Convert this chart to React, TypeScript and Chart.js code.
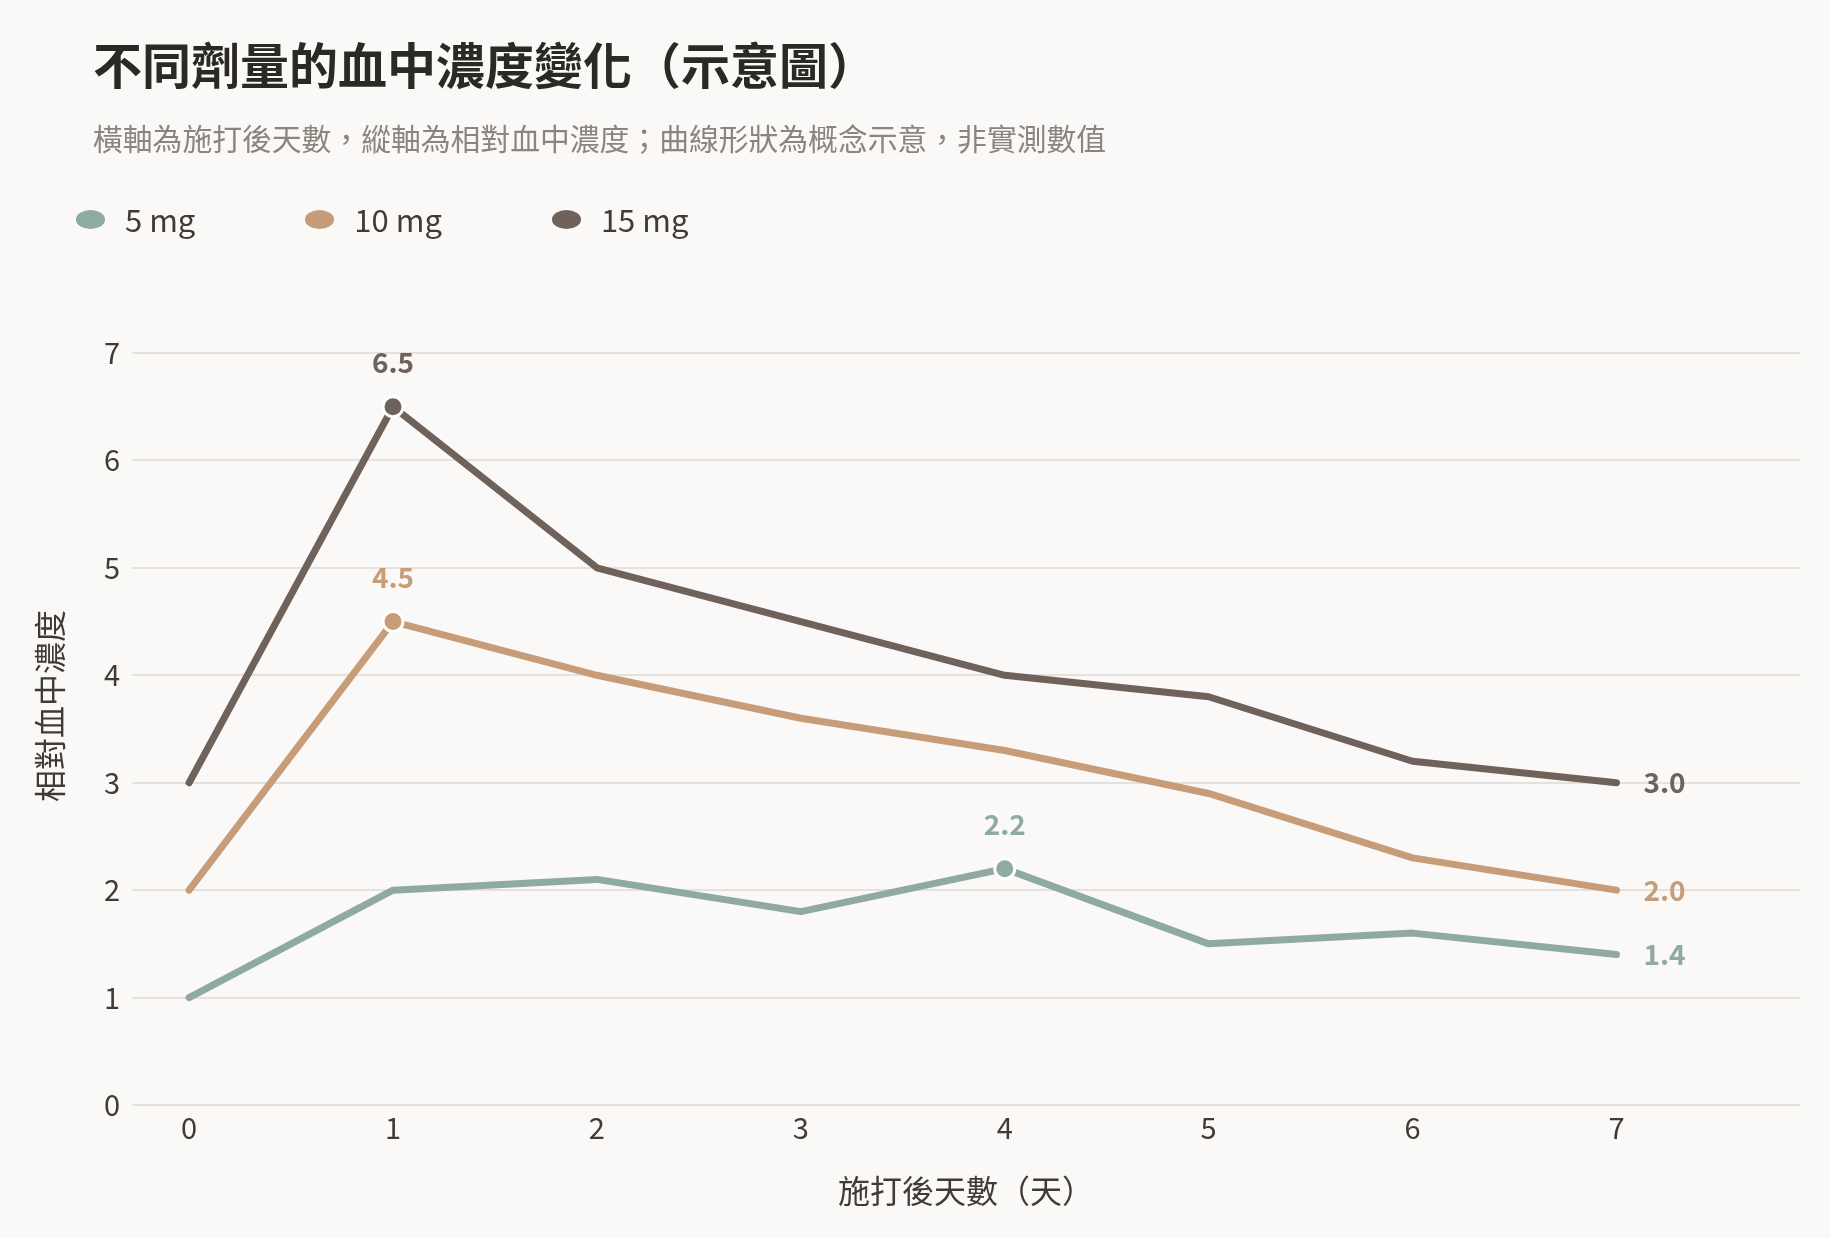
import React, { useEffect, useRef } from 'react'
import Chart, { ChartConfiguration, Plugin } from 'chart.js/auto'

const days = [0, 1, 2, 3, 4, 5, 6, 7]
const seriesNames = ['5 mg', '10 mg', '15 mg']
const seriesColors = ['#8fa9a3', '#c79c78', '#6e625a']
const dose5 = [1.0, 2.0, 2.1, 1.8, 2.2, 1.5, 1.6, 1.4]
const dose10 = [2.0, 4.5, 4.0, 3.6, 3.3, 2.9, 2.3, 2.0]
const dose15 = [3.0, 6.5, 5.0, 4.5, 4.0, 3.8, 3.2, 3.0]
const seriesValues = [dose5, dose10, dose15]

const FONT = '"Noto Sans CJK TC", "Noto Sans", sans-serif'
const BG = '#faf9f7'
const TEXT = '#3f3b37'
const Y_TITLE = '相對血中濃度'

const peakIndex = (values: number[]) => values.indexOf(Math.max(...values))

// peak value above the marker, last value right of the line end, y title
const valueLabels: Plugin<'line'> = {
  id: 'valueLabels',
  afterDatasetsDraw(chart) {
    const { ctx, chartArea } = chart
    seriesValues.forEach((values, i) => {
      const meta = chart.getDatasetMeta(i)
      const peak = peakIndex(values)
      const last = values.length - 1
      ctx.save()
      ctx.fillStyle = seriesColors[i]
      ctx.font = `bold 28px ${FONT}`
      ctx.textBaseline = 'middle'
      const p = meta.data[peak]
      ctx.textAlign = 'center'
      ctx.fillText(values[peak].toFixed(1), p.x, p.y - 44)
      const e = meta.data[last]
      ctx.textAlign = 'left'
      ctx.fillText(values[last].toFixed(1), e.x + 27, e.y)
      ctx.restore()
    })

    // axis title sits a bit above the plot centre in the original
    ctx.save()
    ctx.fillStyle = TEXT
    ctx.font = `32px ${FONT}`
    ctx.textAlign = 'center'
    ctx.textBaseline = 'middle'
    ctx.translate(50, (chartArea.top + chartArea.bottom) / 2 - 23)
    ctx.rotate(-Math.PI / 2)
    ctx.fillText(Y_TITLE, 0, 0)
    ctx.restore()
  },
}

const DoseChart: React.FC = () => {
  const chartRef = useRef<HTMLCanvasElement | null>(null)
  const chartInstance = useRef<Chart | null>(null)

  useEffect(() => {
    if (!chartRef.current) return
    if (chartInstance.current) chartInstance.current.destroy()
    const ctx = chartRef.current.getContext('2d')
    if (!ctx) return

    Chart.defaults.font.family = FONT

    const config: ChartConfiguration<'line'> = {
      type: 'line',
      data: {
        datasets: seriesValues.map((values, i) => {
          const peak = peakIndex(values)
          return {
            label: seriesNames[i],
            data: values.map((v, j) => ({ x: days[j], y: v })),
            borderColor: seriesColors[i],
            backgroundColor: seriesColors[i],
            borderWidth: 7,
            borderCapStyle: 'round',
            borderJoinStyle: 'round',
            tension: 0,
            pointRadius: values.map((_, j) => (j === peak ? 10 : 0)),
            pointBackgroundColor: seriesColors[i],
            pointBorderColor: '#ffffff',
            pointBorderWidth: 3,
          }
        }),
      },
      options: {
        responsive: true,
        maintainAspectRatio: false,
        animation: false,
        layout: {
          padding: { left: 20, right: 30, top: 353, bottom: 20 },
        },
        plugins: {
          legend: { display: false },
          tooltip: { enabled: false },
        },
        scales: {
          x: {
            type: 'linear',
            min: -0.28,
            max: 7.9,
            afterBuildTicks: (axis) => {
              axis.ticks = days.map((d) => ({ value: d }))
            },
            afterFit: (axis) => {
              axis.height = 113
            },
            grid: { display: false },
            border: { display: false },
            ticks: {
              color: TEXT,
              font: { size: 29 },
              padding: -2,
            },
            title: {
              display: true,
              text: '施打後天數（天）',
              color: TEXT,
              font: { size: 32 },
              padding: { top: 0, bottom: 8 },
            },
          },
          y: {
            min: 0,
            max: 7,
            afterFit: (axis) => {
              axis.width = 112
            },
            grid: {
              color: '#e5e2dd',
              lineWidth: 2,
              drawTicks: false,
            },
            border: { display: false },
            ticks: {
              stepSize: 1,
              color: TEXT,
              font: { size: 29 },
              padding: 12,
            },
          },
        },
      },
      plugins: [valueLabels],
    }

    chartInstance.current = new Chart(ctx, config)

    return () => {
      if (chartInstance.current) chartInstance.current.destroy()
    }
  }, [])

  return (
    <div style={{ position: 'absolute', inset: 0 }}>
      <canvas ref={chartRef} />
    </div>
  )
}

const App: React.FC = () => {
  return (
    <div
      style={{
        position: 'fixed',
        left: 0,
        top: 0,
        width: 1830,
        height: 1238,
        background: BG,
        fontFamily: FONT,
        overflow: 'hidden',
      }}
    >
      <DoseChart />
      <div
        style={{
          position: 'absolute',
          left: 93,
          top: 34,
          fontSize: 49,
          fontWeight: 700,
          lineHeight: '58px',
          color: '#2b2925',
          whiteSpace: 'nowrap',
        }}
      >
        不同劑量的血中濃度變化（示意圖）
      </div>
      <div
        style={{
          position: 'absolute',
          left: 93,
          top: 119,
          fontSize: 29.8,
          lineHeight: '36px',
          color: '#8b857d',
          whiteSpace: 'nowrap',
        }}
      >
        橫軸為施打後天數，縱軸為相對血中濃度；曲線形狀為概念示意，非實測數值
      </div>
      <div
        style={{
          position: 'absolute',
          left: 76,
          top: 201,
          display: 'flex',
          alignItems: 'center',
          height: 36,
        }}
      >
        {seriesNames.map((name, i) => (
          <div key={name} style={{ display: 'flex', alignItems: 'center', marginRight: 110 }}>
            <span
              style={{
                display: 'inline-block',
                width: 29,
                height: 19,
                borderRadius: '50%',
                background: seriesColors[i],
                marginRight: 20,
              }}
            />
            <span style={{ fontSize: 31, lineHeight: '36px', color: TEXT, whiteSpace: 'nowrap' }}>
              {name}
            </span>
          </div>
        ))}
      </div>
    </div>
  )
}

export default App
